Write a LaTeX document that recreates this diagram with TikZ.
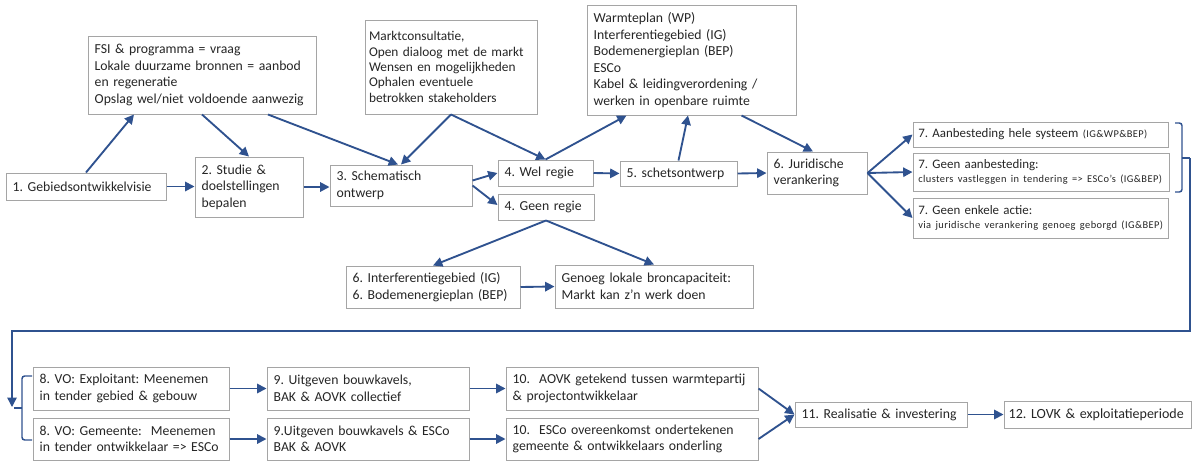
\documentclass[tikz,border=0pt]{standalone}
\usepackage{fontspec}
\setmainfont{Carlito}[WordSpace=0.85]
\newfontfamily\smallfont{Carlito}[WordSpace=0.9,LetterSpace=4]
\usetikzlibrary{arrows.meta,calc}
\definecolor{arrowblue}{RGB}{47,82,143}
\definecolor{boxgrey}{RGB}{165,165,165}
\newcommand{\sml}[1]{{\smallfont\fontsize{7.8}{9.2}\selectfont #1}}
\frenchspacing
\hyphenpenalty=10000
\exhyphenpenalty=10000

\begin{document}
\begin{tikzpicture}[x=0.75pt,y=0.75pt,yscale=-1,xscale=1,
  box/.style={draw=boxgrey, line width=0.75pt, fill=white, align=left, inner xsep=5pt, inner ysep=2pt, font=\fontsize{10.3}{12.4}\selectfont, text=black!85},
  arr/.style={draw=arrowblue, line width=1.4pt, -{Triangle[length=7pt,width=7pt]}},
  brace/.style={draw=arrowblue, line width=1.1pt, rounded corners=2pt}]
\useasboundingbox (0,0) rectangle (1192,461);

%Shape: Rectangle [row 1]
\node[box, text width=110pt, minimum height=20.25pt] (b1) at (86,186.5) {1. Gebiedsontwikkelvisie};
\node[box, text width=161pt, minimum height=58.5pt] (fsi) at (202,75) {FSI \& programma = vraag\\Lokale duurzame bronnen = aanbod\\en regeneratie\\Opslag wel/niet voldoende aanwezig};
\node[box, text width=71pt, minimum height=45pt] (b2) at (249,187) {2. Studie \&\\doelstellingen\\bepalen};
\node[box, text width=96.5pt, minimum height=30.75pt] (b3) at (401,185.5) {3. Schematisch\\ontwerp};
\node[box, text width=123pt, inner xsep=3pt, minimum height=70.5pt, font=\fontsize{10}{11.5}\selectfont] (mc) at (451,67) {Marktconsultatie,\\Open dialoog met de markt\\Wensen en mogelijkheden\\Ophalen eventuele\\betrokken stakeholders};
\node[box, text width=61.25pt, minimum height=19.5pt] (b4w) at (545.5,173) {4. Wel regie};
\node[box, text width=62pt, minimum height=19.5pt] (b4g) at (546,207) {4. Geen regie};
\node[box, text width=146.75pt, minimum height=82.5pt] (wp) at (691.5,60) {Warmteplan (WP)\\Interferentiegebied (IG)\\Bodemenergieplan (BEP)\\ESCo\\Kabel \& leidingverordening /\\werken in openbare ruimte};
\node[box, text width=77.75pt, minimum height=18.75pt] (b5) at (678.5,173.5) {5. schetsontwerp};
\node[box, text width=65pt, minimum height=31.5pt] (b6) at (817,173) {6. Juridische\\verankering};
\node[box, text width=183.25pt, inner xsep=4pt, minimum height=18.75pt, font=\fontsize{9.7}{11}\selectfont] (b7a) at (1040.5,134.5) {7. Aanbesteding hele systeem \sml{(IG\&WP\&BEP)}};
\node[box, text width=184pt, inner xsep=4pt, minimum height=28.5pt, font=\fontsize{9.7}{11}\selectfont] (b7b) at (1041,172) {7. Geen aanbesteding:\\\sml{clusters vastleggen in tendering => ESCo’s (IG\&BEP)}};
\node[box, text width=183.25pt, inner xsep=4pt, minimum height=30pt, font=\fontsize{9.7}{11}\selectfont] (b7c) at (1040.5,218) {7. Geen enkele actie:\\\sml{via juridische verankering genoeg geborgd (IG\&BEP)}};

%Shape: Rectangle [geen regie]
\node[box, text width=120.5pt, minimum height=31.5pt] (ig) at (433,287) {6. Interferentiegebied (IG)\\6. Bodemenergieplan (BEP)};
\node[box, text width=138.5pt, minimum height=32.25pt] (gl) at (654,286.5) {Genoeg lokale broncapaciteit:\\Markt kan z’n werk doen};

%Shape: Rectangle [row 2]
\node[box, text width=137pt, minimum height=32.25pt] (b8a) at (131,388.5) {8. VO: Exploitant: Meenemen\\in tender gebied \& gebouw};
\node[box, text width=137pt, minimum height=31.5pt] (b8b) at (131,439) {8. VO: Gemeente:~ Meenemen\\in tender ontwikkelaar => ESCo};
\node[box, text width=141.5pt, minimum height=32.25pt] (b9a) at (368,388.5) {9. Uitgeven bouwkavels,\\BAK \& AOVK collectief};
\node[box, text width=141.5pt, minimum height=31.5pt] (b9b) at (368,439) {9.Uitgeven bouwkavels \& ESCo\\BAK \& AOVK};
\node[box, text width=179pt, minimum height=32.25pt] (b10a) at (632,388.5) {10.~ AOVK getekend tussen warmtepartij\\\& projectontwikkelaar};
\node[box, text width=179pt, minimum height=31.5pt] (b10b) at (632,439) {10.~ ESCo overeenkomst ondertekenen\\gemeente \& ontwikkelaars onderling};
\node[box, text width=119pt, minimum height=18.75pt] (b11) at (881,414.5) {11. Realisatie \& investering};
\node[box, text width=133.25pt, inner xsep=3.5pt, minimum height=20.25pt, font=\fontsize{10.5}{12.4}\selectfont] (b12) at (1097.5,414.5) {12. LOVK \& exploitatieperiode};

%Straight Lines [row 1]
\draw[arr] (b1.north) -- ($(fsi.south)+(-68,0)$);
\draw[arr] (fsi.south) -- (b2.north);
\draw[arr] ($(fsi.south)+(66,0)$) -- ($(b3.north)+(-3,0)$);
\draw[arr] (mc.south) -- (b3.north);
\draw[arr] (mc.south) -- (b4w.north);
\draw[arr] (b1.east) -- (b2.west |- b1.east);
\draw[arr] (b2.east) -- (b3.west |- b2.east);
\draw[arr] ($(b3.east)+(0,-5)$) -- (b4w.west);
\draw[arr] ($(b3.east)+(0,0)$) -- ($(b4g.west)+(0,-2)$);
\draw[arr] (b4w.north) -- ($(wp.south)+(-65,0)$);
\draw[arr] (b4w.east) -- (b5.west);
\draw[arr] (b5.north) -- ($(wp.south)+(-3.5,0)$);
\draw[arr] ($(wp.south)+(50,0)$) -- ($(b6.north)+(-4,0)$);
\draw[arr] (b5.east) -- (b6.west);
\draw[arr] (b6.east) -- (b7a.west);
\draw[arr] (b6.east) -- (b7b.west);
\draw[arr] (b6.east) -- (b7c.west);

%Straight Lines [geen regie]
\draw[arr] (b4g.south) -- (ig.north);
\draw[arr] (b4g.south) -- (gl.north);
\draw[arr] (ig.east) -- (gl.west);

%Straight Lines [row 2]
\draw[arr] (b8a.east) -- (b9a.west);
\draw[arr] (b8b.east) -- (b9b.west);
\draw[arr] (b9a.east) -- (b10a.west);
\draw[arr] (b9b.east) -- (b10b.west);
\draw[arr] (b10a.east) -- (b11.west);
\draw[arr] (b10b.east) -- (b11.west);
\draw[arr] (b11.east) -- (b12.west);

%Brackets and return line
\coordinate (rnub) at (1190,158);
\coordinate (lnub) at (12,407);
\draw[brace] (1175,123) -| (1182,192) -- (1175,192);
\draw[brace, rounded corners=0pt] (1182,158) -- (rnub);
\draw[brace] (32,376) -| (22,440) -- (32,440);
\draw[brace, rounded corners=0pt] (22,408) -- (14,408);
\draw[draw=arrowblue, line width=1pt, -{Triangle[length=7pt,width=7pt]}] (rnub) -- (1190,331) -- (12,331) -- (lnub);

\end{tikzpicture}
\end{document}
